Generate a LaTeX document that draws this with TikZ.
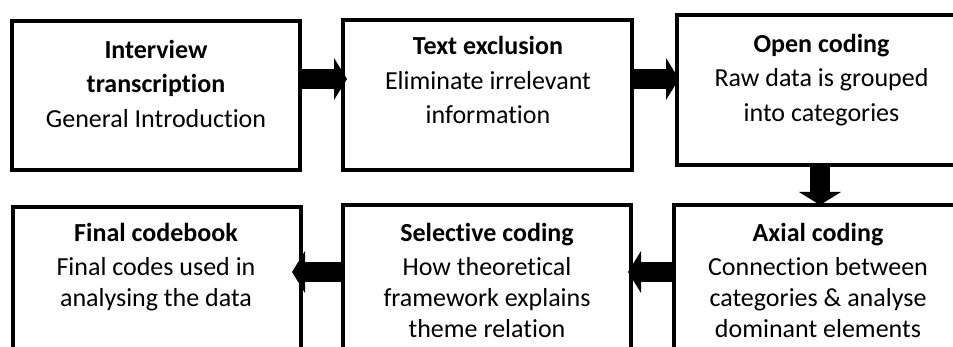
\documentclass[tikz,border=0pt]{standalone}
\usepackage{fontspec}
\setmainfont{Carlito}[Ligatures={NoCommon}]
\usetikzlibrary{arrows.meta}

\tikzset{
  stepbox/.style={draw=black, line width=4pt, rectangle, inner sep=0pt, outer sep=0pt,
    minimum width=289pt, minimum height=150pt},
  steptext/.style={anchor=base, inner sep=0pt, font=\fontsize{26}{34.5}\selectfont},
  lowtext/.style={steptext, font=\fontsize{26}{31}\selectfont},
  fatarrow/.style={draw=black, line width=20pt,
    -{Triangle[width=42pt, length=13pt, line width=0pt]}},
}
% centred lines of a step, first line's baseline is the node's base
\newcommand\steptab[1]{\begin{tabular}[t]{@{}c@{}}#1\end{tabular}}

\begin{document}
\begin{tikzpicture}[x=1pt, y=-1pt]
\useasboundingbox (0,0) rectangle (953,347);
\clip (0,0) rectangle (953,347);

% step boxes
\node[stepbox, minimum width=288pt, minimum height=149pt] (b1) at (156,95.5) {};
\node[stepbox] (b2) at (487.5,95) {};
\node[stepbox] (b3) at (821.5,90) {};
\node[stepbox, minimum width=288pt] (b4) at (157,282) {};
\node[stepbox, minimum width=288pt] (b5) at (487,280) {};
\node[stepbox, minimum width=288pt] (b6) at (818,280) {};

% step texts
\node[steptext] (t1) at (156,58.3)
  {\steptab{\textbf{Interview}\\\textbf{transcription}\\General Introduction}};
\node[steptext] (t2) at (488,55)
  {\steptab{\textbf{Text exclusion}\\Eliminate irrelevant\\information}};
\node[steptext] (t3) at (821.5,52.5)
  {\steptab{\textbf{Open coding}\\Raw data is grouped\\into categories}};
\node[lowtext] (t4) at (156,242)
  {\steptab{\textbf{Final codebook}\\[2.5pt]Final codes used in\\analysing the data}};
\node[lowtext] (t5) at (487,241.7)
  {\steptab{\textbf{Selective coding}\\[2.5pt]How theoretical\\framework explains\\theme relation}};
\node[lowtext] (t6) at (818,241.7)
  {\steptab{\textbf{Axial coding}\\[2.5pt]Connection between\\categories \& analyse\\dominant elements}};

% levels of the connectors
\coordinate (r1) at (0,79);
\coordinate (r2) at (0,272);
\coordinate (c3) at (820,0);

% connectors
\draw[fatarrow, shorten >=-4pt] (b1.east |- r1) -- (b2.west |- r1);
\draw[fatarrow, shorten >=-2pt] (b2.east |- r1) -- (b3.west |- r1);
\draw[fatarrow] (b3.south -| c3) -- (b6.north -| c3);
\draw[fatarrow, shorten >=-3pt] (b6.west |- r2) -- (b5.east |- r2);
\draw[fatarrow, shorten >=-9pt] (b5.west |- r2) -- (b4.east |- r2);
\end{tikzpicture}
\end{document}
